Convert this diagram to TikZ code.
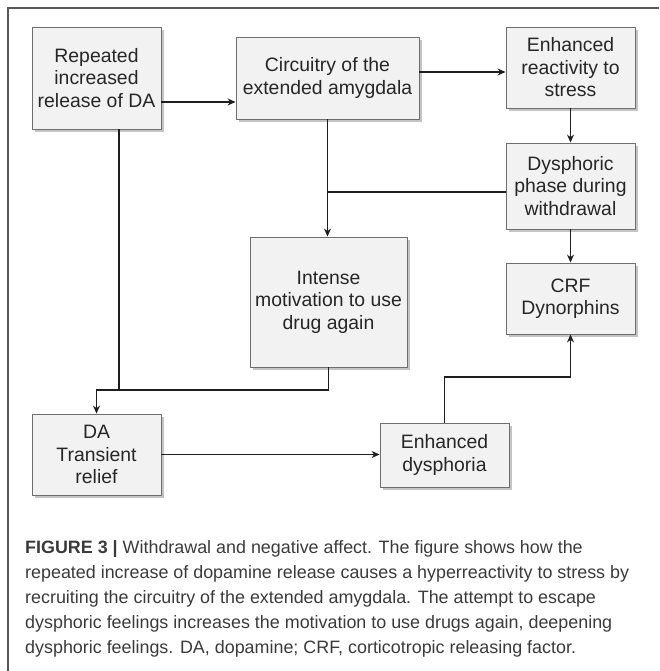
\documentclass[tikz,border=0pt]{standalone}
\usepackage{fontspec}
\setmainfont{Liberation Sans}
\newfontfamily\capfont{Liberation Sans}
\usetikzlibrary{arrows.meta,calc,shadows}
\definecolor{boxfill}{HTML}{F2F2F2}
\definecolor{boxline}{HTML}{6E6E6E}
\definecolor{shadowc}{HTML}{C4C4C4}
\definecolor{txt}{HTML}{262626}
\definecolor{captxt}{HTML}{3A3A3A}
\definecolor{conn}{HTML}{1E1E1E}
\tikzset{
  flowbox/.style={draw=boxline, fill=boxfill, line width=0.9pt, inner sep=0pt,
    align=center, text=txt, font=\fontsize{19.4}{22.5}\selectfont,
    drop shadow={shadow xshift=3pt, shadow yshift=-3pt, fill=shadowc, opacity=1}},
  link/.style={draw=conn, line width=1.2pt},
  arr/.style={link, -{Stealth[length=8pt,width=7pt]}},
  capline/.style={anchor=base west, inner sep=0pt, text=captxt, font=\capfont\fontsize{17.9}{25}\selectfont}
}
\begin{document}
\begin{tikzpicture}[x=1pt,y=-1pt]
\useasboundingbox (0,0) rectangle (659,671);
\draw[draw=boxline!80!black, line width=1.2pt] (8,671) -- (8,8) -- (659,8);

\node[flowbox, minimum width=129pt, minimum height=102pt] (rep) at (96.5,78) {Repeated\\increased\\release of DA};
\node[flowbox, minimum width=183pt, minimum height=82pt] (circ) at (327.5,78) {Circuitry of the\\extended amygdala};
\node[flowbox, minimum width=129pt, minimum height=81pt] (enh) at (570.5,67.5) {Enhanced\\reactivity to\\stress};
\node[flowbox, minimum width=129pt, minimum height=86pt] (dys) at (570.5,186) {Dysphoric\\phase during\\withdrawal};
\node[flowbox, minimum width=157pt, minimum height=130pt] (int) at (328.5,302) {Intense\\motivation to use\\drug again};
\node[flowbox, minimum width=129pt, minimum height=71pt] (crf) at (570.5,298.5) {CRF\\Dynorphins};
\node[flowbox, minimum width=129pt, minimum height=81pt] (da) at (96.5,454.5) {DA\\Transient\\relief};
\node[flowbox, minimum width=129pt, minimum height=64pt] (edys) at (444.5,455) {Enhanced\\dysphoria};

\coordinate (ya) at (0,102);
\coordinate (yb) at (0,72);
\coordinate (yc) at (0,192);
\coordinate (yd) at (0,390);
\coordinate (ye) at (0,377);
\coordinate (xr) at (119,0);

\draw[arr] (rep.east |- ya) -- (circ.west |- ya);
\draw[arr] (circ.east |- yb) -- (enh.west |- yb);
\draw[arr] (enh.south) -- (dys.north);
\draw[arr] (dys.south) -- (crf.north);
\draw[arr] (circ.south) -- (circ.south |- int.north);
\draw[link] (dys.west |- yc) -- (circ.south |- yc);
\draw[link] (xr |- rep.south) -- (xr |- yd);
\draw[arr] (int.south) -- (int.south |- yd) -| (da.north);
\draw[arr] (da.east) -- (da.east -| edys.west);
\draw[arr] (edys.north) |- (crf.south |- ye) -- (crf.south);

\node[capline] (c1) at (25,553) {\textbf{FIGURE 3 |} Withdrawal and negative affect. The figure shows how the};
\node[capline] (c2) at (25,578) {repeated increase of dopamine release causes a hyperreactivity to stress by};
\node[capline] (c3) at (25,603) {recruiting the circuitry of the extended amygdala. The attempt to escape};
\node[capline] (c4) at (25,628) {dysphoric feelings increases the motivation to use drugs again, deepening};
\node[capline] (c5) at (25,653) {dysphoric feelings. DA, dopamine; CRF, corticotropic releasing factor.};
\end{tikzpicture}
\end{document}
